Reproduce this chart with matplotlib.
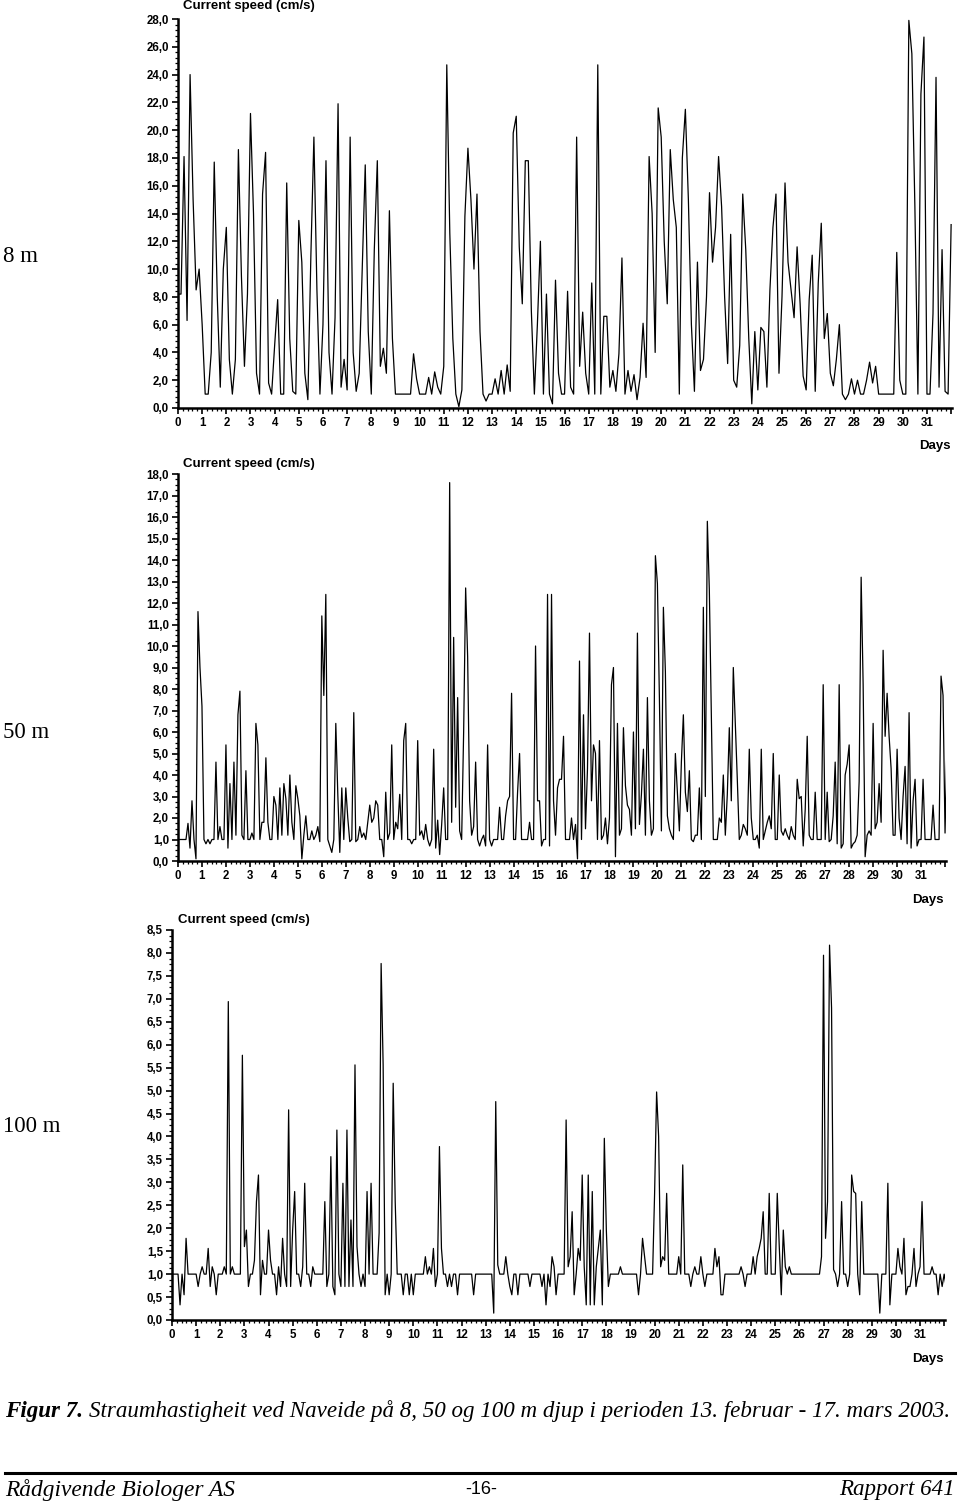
import numpy as np
import matplotlib
matplotlib.use("Agg")
from matplotlib import pyplot as plt
from matplotlib.ticker import MultipleLocator, FuncFormatter
from matplotlib.lines import Line2D

# ---- data (current speed, cm/s) ----
# 8 m: 8 samples per day, 50 m and 100 m: 12 samples per day
per_day_8m = 8
per_day_deep = 12

speed_8m = [
    8.2, 8.2, 18.1, 6.3, 24.0, 15.0, 8.5, 10.0,
    6.0, 1.0, 1.0, 4.0, 17.7, 8.0, 1.5, 10.0,
    13.0, 3.5, 1.0, 3.5, 18.6, 9.5, 3.0, 8.2,
    21.2, 14.0, 2.5, 1.0, 15.4, 18.4, 1.8, 1.0,
    4.5, 7.8, 1.0, 1.0, 16.2, 5.0, 1.2, 1.0,
    13.5, 10.5, 2.5, 0.6, 11.0, 19.5, 8.5, 1.0,
    6.0, 17.8, 4.0, 1.0, 6.5, 21.9, 1.5, 3.5,
    1.3, 19.5, 4.0, 1.2, 2.5, 10.0, 17.5, 5.5,
    1.0, 11.4, 17.8, 3.0, 4.3, 2.5, 14.2, 5.0,
    1.0, 1.0, 1.0, 1.0, 1.0, 1.0, 3.9, 2.1,
    1.0, 1.0, 1.0, 2.2, 1.0, 2.6, 1.5, 1.0,
    3.0, 24.7, 12.6, 5.0, 1.0, 0.1, 1.3, 13.8,
    18.7, 15.0, 10.0, 15.4, 5.5, 1.0, 0.5, 1.0,
    1.0, 2.1, 1.0, 2.7, 1.0, 3.1, 1.2, 19.8,
    21.0, 11.6, 7.5, 17.8, 17.8, 7.0, 1.0, 6.0,
    12.0, 1.0, 8.2, 1.0, 0.3, 9.2, 2.5, 1.0,
    1.0, 8.4, 1.5, 1.0, 19.5, 3.0, 6.9, 2.5,
    1.0, 9.0, 1.0, 24.7, 1.0, 6.6, 6.6, 1.5,
    2.7, 1.2, 3.9, 10.8, 1.0, 2.7, 1.2, 2.4,
    0.6, 2.2, 6.1, 2.2, 18.1, 14.0, 4.0, 21.6,
    19.5, 12.0, 7.5, 18.6, 15.0, 13.0, 1.0, 18.0,
    21.5, 15.0, 6.0, 1.2, 10.5, 2.7, 3.5, 8.0,
    15.5, 10.5, 13.0, 18.1, 14.5, 8.0, 3.2, 12.5,
    2.0, 1.5, 4.5, 15.4, 11.4, 5.0, 0.3, 5.5,
    1.3, 5.8, 5.5, 1.5, 8.5, 13.0, 15.4, 2.5,
    8.0, 16.2, 10.5, 8.5, 6.5, 11.6, 7.5, 2.3,
    1.3, 7.8, 11.0, 1.2, 9.0, 13.3, 5.0, 6.8,
    2.5, 1.6, 3.5, 6.0, 1.0, 0.6, 1.0, 2.1,
    1.0, 2.0, 1.0, 1.0, 2.0, 3.3, 1.8, 3.0,
    1.0, 1.0, 1.0, 1.0, 1.0, 1.0, 11.2, 2.0,
    1.0, 1.0, 27.9, 25.5, 14.5, 1.0, 22.6, 26.7,
    1.0, 1.0, 6.8, 23.8, 1.5, 11.4, 1.2, 1.0,
    13.2,
]

speed_50m = [
    1.0, 1.0, 1.0, 1.0, 1.0, 1.75, 0.6, 2.8, 1.0, 0.1, 11.6, 9.0,
    7.2, 1.0, 0.8, 1.0, 0.8, 1.0, 1.0, 4.6, 1.0, 1.6, 1.0, 1.0,
    5.4, 0.6, 3.6, 1.0, 4.6, 1.2, 6.8, 7.9, 1.2, 1.0, 4.2, 1.0,
    1.0, 1.3, 1.0, 6.4, 5.4, 1.0, 1.8, 1.8, 4.8, 1.8, 1.0, 1.0,
    3.0, 2.6, 1.0, 3.4, 1.2, 3.6, 2.9, 1.2, 4.0, 1.8, 1.0, 3.5,
    2.9, 2.1, 0.1, 1.2, 2.1, 1.0, 1.0, 1.4, 1.0, 1.2, 1.6, 0.9,
    11.4, 7.7, 12.4, 1.0, 0.7, 0.4, 1.0, 6.4, 3.1, 0.4, 3.4, 1.0,
    3.4, 2.0, 0.9, 1.0, 6.9, 0.9, 1.0, 1.6, 1.1, 1.3, 1.0, 1.8,
    2.6, 1.8, 2.0, 2.8, 2.6, 1.0, 1.0, 0.2, 3.2, 1.0, 1.3, 5.4,
    1.0, 1.8, 1.5, 3.1, 1.0, 5.6, 6.4, 1.0, 1.0, 0.8, 1.0, 1.0,
    5.6, 1.2, 1.4, 1.0, 1.7, 1.0, 0.7, 1.0, 5.2, 0.6, 1.9, 0.3,
    1.7, 3.4, 1.0, 1.0, 17.6, 1.8, 10.4, 2.5, 7.6, 1.4, 1.0, 6.0,
    12.7, 9.5, 2.8, 1.2, 1.6, 4.6, 1.0, 0.7, 1.0, 1.2, 0.7, 5.4,
    1.0, 0.7, 1.0, 1.0, 1.0, 2.5, 1.0, 1.0, 2.1, 2.8, 3.0, 7.8,
    1.0, 1.0, 3.2, 5.0, 1.0, 1.0, 1.0, 1.0, 1.8, 1.0, 1.0, 10.0,
    2.8, 2.8, 0.7, 1.0, 1.0, 12.4, 0.7, 12.4, 2.8, 1.2, 3.4, 3.8,
    3.8, 5.8, 1.0, 1.0, 1.0, 2.0, 1.0, 1.7, 0.1, 9.3, 1.0, 6.8,
    1.5, 4.3, 10.6, 2.8, 5.4, 5.0, 1.0, 5.6, 1.0, 1.2, 2.0, 0.8,
    2.0, 8.2, 9.0, 0.2, 6.4, 1.2, 1.5, 6.2, 3.5, 2.6, 2.4, 1.2,
    6.0, 1.5, 10.6, 1.7, 3.1, 5.2, 1.2, 7.6, 2.8, 1.2, 1.5, 14.2,
    12.9, 7.6, 1.4, 11.8, 8.8, 2.1, 1.5, 1.2, 1.0, 5.0, 3.2, 1.4,
    4.6, 6.8, 3.2, 2.3, 4.2, 1.0, 0.9, 1.2, 1.2, 3.4, 1.0, 11.8,
    3.0, 15.8, 12.6, 6.8, 1.0, 1.0, 1.0, 2.0, 1.8, 4.0, 1.2, 3.1,
    6.2, 2.8, 9.0, 6.4, 3.8, 1.0, 1.2, 1.7, 1.5, 1.2, 5.2, 2.0,
    1.0, 1.0, 1.2, 0.6, 5.2, 1.0, 1.4, 1.8, 2.1, 1.5, 5.0, 1.0,
    1.0, 4.0, 1.4, 1.2, 1.5, 1.2, 1.0, 1.6, 1.2, 1.0, 3.8, 2.9,
    3.0, 0.7, 2.4, 5.8, 1.2, 1.0, 1.0, 3.2, 1.0, 1.0, 1.0, 8.2,
    1.0, 3.2, 0.9, 1.0, 2.1, 4.6, 0.8, 8.2, 0.6, 0.8, 4.0, 4.5,
    5.4, 0.6, 0.8, 0.9, 1.2, 3.7, 13.2, 8.2, 0.2, 1.2, 1.4, 1.2,
    6.4, 1.5, 1.8, 3.6, 1.8, 9.8, 5.8, 7.8, 5.8, 4.3, 1.2, 1.2,
    5.2, 2.0, 1.0, 3.0, 4.4, 0.8, 6.9, 0.6, 2.8, 3.8, 0.7, 1.0,
    1.0, 3.8, 1.0, 1.0, 1.0, 1.0, 2.6, 1.0, 1.0, 1.0, 8.6, 7.7,
    1.3, 5.6,
]

speed_100m = [
    1.0, 1.0, 1.0, 1.0, 0.33, 1.0, 0.55, 1.78, 1.0, 1.0, 1.0, 1.0,
    1.0, 0.73, 1.0, 1.16, 1.0, 1.0, 1.56, 0.73, 1.16, 1.0, 0.55, 1.0,
    1.0, 1.0, 1.16, 1.0, 6.94, 1.0, 1.16, 1.0, 1.0, 1.0, 1.0, 5.77,
    1.6, 1.96, 0.73, 1.0, 1.0, 1.3, 2.58, 3.16, 0.55, 1.3, 1.0, 1.0,
    1.96, 1.3, 1.0, 1.0, 0.55, 1.16, 0.73, 1.78, 1.0, 0.73, 4.58, 0.73,
    1.96, 2.8, 1.0, 1.0, 0.73, 1.16, 2.98, 1.0, 1.0, 0.73, 1.16, 1.0,
    1.0, 1.0, 1.0, 1.0, 2.58, 0.73, 1.0, 3.56, 0.73, 0.55, 4.14, 1.0,
    0.73, 2.98, 0.73, 4.14, 0.73, 2.18, 0.73, 5.56, 1.6, 1.0, 0.73, 1.0,
    0.73, 2.8, 1.0, 2.98, 1.0, 1.0, 1.0, 1.9, 7.77, 5.56, 0.55, 1.0,
    0.55, 1.0, 5.16, 2.58, 1.0, 1.0, 1.0, 0.55, 1.0, 1.0, 0.55, 1.0,
    0.55, 1.0, 1.0, 1.0, 1.0, 1.0, 1.38, 1.0, 1.16, 1.0, 1.56, 0.73,
    1.0, 3.78, 1.56, 1.0, 1.0, 0.73, 1.0, 0.73, 1.0, 1.0, 0.55, 1.0,
    1.0, 1.0, 1.0, 1.0, 1.0, 1.0, 0.55, 1.0, 1.0, 1.0, 1.0, 1.0,
    1.0, 1.0, 1.0, 1.0, 0.15, 4.76, 1.2, 1.0, 1.0, 1.0, 1.38, 1.0,
    0.73, 0.55, 1.0, 1.0, 0.55, 1.0, 1.0, 1.0, 1.0, 1.0, 0.73, 1.0,
    1.0, 1.0, 1.0, 1.0, 0.73, 1.0, 0.33, 1.0, 0.73, 1.38, 1.16, 0.55,
    1.0, 1.0, 1.0, 1.0, 4.36, 1.16, 1.38, 2.36, 0.55, 1.0, 1.56, 1.3,
    3.16, 1.16, 0.33, 3.16, 0.33, 2.8, 0.33, 1.16, 1.56, 1.96, 0.33, 3.96,
    1.96, 0.73, 1.0, 1.0, 1.0, 1.0, 1.0, 1.16, 1.0, 1.0, 1.0, 1.0,
    1.0, 1.0, 1.0, 1.0, 0.55, 1.0, 1.78, 1.38, 1.0, 1.0, 1.0, 1.0,
    2.76, 4.97, 4.0, 1.16, 1.38, 1.3, 2.76, 1.0, 1.0, 1.0, 1.0, 1.0,
    1.38, 1.0, 3.38, 1.0, 1.0, 1.0, 0.73, 1.0, 1.16, 1.0, 1.0, 1.38,
    1.0, 0.73, 1.0, 1.0, 1.0, 1.0, 1.56, 1.16, 1.38, 0.55, 0.55, 1.0,
    1.0, 1.0, 1.0, 1.0, 1.0, 1.0, 1.0, 1.16, 1.0, 0.73, 1.0, 1.0,
    1.0, 1.38, 1.0, 1.38, 1.56, 1.78, 2.36, 1.0, 1.0, 2.76, 1.0, 1.0,
    1.0, 2.76, 1.6, 0.55, 1.96, 1.16, 1.0, 1.16, 1.0, 1.0, 1.0, 1.0,
    1.0, 1.0, 1.0, 1.0, 1.0, 1.0, 1.0, 1.0, 1.0, 1.0, 1.0, 1.38,
    7.95, 1.78, 2.58, 8.17, 6.8, 1.1, 1.0, 0.73, 1.0, 2.58, 1.0, 1.0,
    0.73, 1.0, 3.16, 2.8, 2.76, 1.0, 0.55, 2.58, 1.0, 1.0, 1.0, 1.0,
    1.0, 1.0, 1.0, 1.0, 0.15, 1.0, 1.0, 1.0, 2.98, 0.33, 1.0, 1.0,
    1.0, 1.56, 1.16, 1.0, 1.78, 0.55, 0.73, 0.73, 1.0, 1.56, 0.73, 1.0,
    1.16, 2.58, 1.0, 1.0, 1.0, 1.0, 1.16, 1.0, 1.0, 0.55, 1.0, 0.73,
    1.0, 0.73,
]

depth_labels = ['8 m', '50 m', '100 m']
y_top = [28.0, 18.0, 8.5]
y_major = [2.0, 1.0, 0.5]
y_minor = [0.4, 0.25, 0.125]
day_ticks = list(range(0, 33))
day_labels = [str(d) for d in range(0, 32)] + ['']

title = 'Current speed (cm/s)'
xlabel = 'Days'
cap_bold = 'Figur 7.'
cap_text = 'Straumhastigheit ved Naveide på 8, 50 og 100 m djup i perioden 13. februar - 17. mars 2003.'
foot_left = 'Rådgivende Biologer AS'
foot_mid = '-16-'
foot_right = 'Rapport 641'

# ---- figure ----
W, H = 960, 1503
dpi = 100
plt.rcParams['font.family'] = ['Liberation Sans', 'DejaVu Sans']

fig = plt.figure(figsize=(W / dpi, H / dpi), dpi=dpi)

# pixel layout: x of day 0, px per day, y of 0-line, y of top value
layout = [
    (178, 24.16, 408, 19),
    (178, 23.97, 861, 474),
    (172, 24.13, 1320, 930),
]
title_pos = [(183, 6), (183, 464), (178, 920)]
days_pos = [(935, 446), (928, 900), (928, 1359)]
depth_pos = [(3, 256), (3, 733), (3, 1127)]
xmax = 32.05

series = [
    (speed_8m, per_day_8m),
    (speed_50m, per_day_deep),
    (speed_100m, per_day_deep),
]

comma = FuncFormatter(lambda v, p: '{:.1f}'.format(v).replace('.', ','))

for i, (vals, per_day) in enumerate(series):
    x0, dpx, yb, yt = layout[i]
    ax = fig.add_axes([x0 / W, 1 - yb / H, xmax * dpx / W, (yb - yt) / H])
    t = np.arange(len(vals)) / per_day
    ax.plot(t, vals, '-', color='black', linewidth=0.9)

    ax.set_xlim(0, xmax)
    ax.set_ylim(0, y_top[i])
    ax.spines['top'].set_visible(False)
    ax.spines['right'].set_visible(False)
    ax.spines['left'].set_linewidth(1.8)
    ax.spines['bottom'].set_linewidth(1.8)

    ax.set_xticks(day_ticks)
    ax.set_xticklabels(day_labels)
    ax.xaxis.set_minor_locator(MultipleLocator(0.2))
    ax.yaxis.set_major_locator(MultipleLocator(y_major[i]))
    ax.yaxis.set_minor_locator(MultipleLocator(y_minor[i]))
    ax.yaxis.set_major_formatter(comma)

    ax.tick_params(axis='both', which='major', direction='out', length=4.5,
                   width=1.2, labelsize=8.3, pad=2)
    ax.tick_params(axis='both', which='minor', direction='out', length=2.2, width=0.9)
    for lab in ax.get_xticklabels() + ax.get_yticklabels():
        lab.set_fontweight('bold')

    tx, ty = title_pos[i]
    fig.text(tx / W, 1 - ty / H, title, ha='left', va='center',
             fontsize=9.5, fontweight='bold')
    dx, dy = days_pos[i]
    fig.text(dx / W, 1 - dy / H, xlabel, ha='center', va='center',
             fontsize=9.5, fontweight='bold')
    lx, ly = depth_pos[i]
    fig.text(lx / W, 1 - ly / H, depth_labels[i], ha='left', va='center',
             fontsize=16.5, family='Liberation Serif')

# caption
t1 = fig.text(5 / W, 1 - 1411 / H, cap_bold, ha='left', va='center', fontsize=16.6,
              family='Liberation Serif', fontweight='bold', fontstyle='italic')
fig.canvas.draw()
bb = t1.get_window_extent()
fig.text((bb.x1 + 6) / W, 1 - 1411 / H, cap_text, ha='left', va='center', fontsize=16.6,
         family='Liberation Serif', fontstyle='italic')

# footer
fig.add_artist(Line2D([5 / W, 955 / W], [1 - 1473 / H, 1 - 1473 / H],
                      color='black', linewidth=2.2, transform=fig.transFigure))
fig.text(5 / W, 1 - 1490 / H, foot_left, ha='left', va='center', fontsize=16.8,
         family='Liberation Serif', fontstyle='italic')
fig.text(481 / W, 1 - 1490 / H, foot_mid, ha='center', va='center', fontsize=13)
fig.text(955 / W, 1 - 1490 / H, foot_right, ha='right', va='center', fontsize=16.6,
         family='Liberation Serif', fontstyle='italic')

fig.savefig('out.png', dpi=dpi)
